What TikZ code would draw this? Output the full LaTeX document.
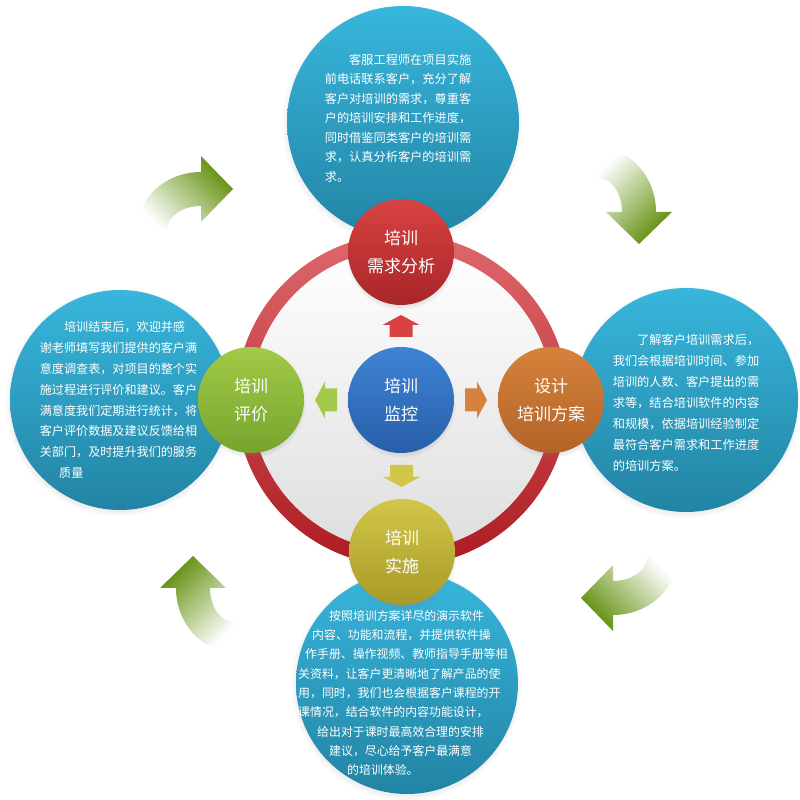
\documentclass[tikz,border=0pt]{standalone}
\usepackage{fontspec}
\setmainfont{Noto Sans CJK SC}
\usetikzlibrary{shadows}

\definecolor{bubbletop}{RGB}{56,182,220}
\definecolor{bubblebot}{RGB}{34,132,164}
\definecolor{ringtop}{RGB}{222,104,108}
\definecolor{ringbot}{RGB}{172,28,34}
\definecolor{innergray}{RGB}{222,222,222}
\definecolor{needtop}{RGB}{216,66,66}
\definecolor{needbot}{RGB}{168,38,40}
\definecolor{plantop}{RGB}{214,130,60}
\definecolor{planbot}{RGB}{178,100,40}
\definecolor{evaltop}{RGB}{162,202,72}
\definecolor{evalbot}{RGB}{118,164,44}
\definecolor{runtop}{RGB}{210,198,72}
\definecolor{runbot}{RGB}{168,154,40}
\definecolor{hubtop}{RGB}{62,132,212}
\definecolor{hubbot}{RGB}{40,94,168}
\definecolor{headgreen}{RGB}{96,142,10}
\definecolor{midgreen}{RGB}{146,194,50}

\tikzset{
  bubble/.style={circle, inner sep=0pt, top color=bubbletop, bottom color=bubblebot,
    circular drop shadow={shadow xshift=-1pt, shadow yshift=-2pt, shadow scale=1.04, opacity=0.35}},
  stage/.style={circle, inner sep=0pt, minimum size=106, text=white, align=center,
    font=\fontsize{17}{28}\selectfont,
    circular drop shadow={shadow xshift=0pt, shadow yshift=-3pt, shadow scale=1.04, opacity=0.3}},
  note/.style={text=white, align=left, inner sep=0pt},
  turnshade/.style={bottom color=white, middle color=midgreen, top color=headgreen},
  turn/.pic={
    \shade[turnshade, shading angle=#1] (-64,0) arc[start angle=180, end angle=90, x radius=64, y radius=58]
      -- (0,74) -- (32,41) -- (0,8) -- (0,24)
      arc[start angle=90, end angle=180, x radius=34, y radius=24] -- cycle;
  },
  blockarr/.pic={
    \path[pic actions] (-11,-11.5) -- (1,-11.5) -- (1,-18.5) -- (11,0)
      -- (1,18.5) -- (1,11.5) -- (-11,11.5) -- cycle;
  }
}

\begin{document}
\begin{tikzpicture}[x=1pt,y=1pt]
\useasboundingbox (0,0) rectangle (800,800);
\fill[white] (0,0) rectangle (800,800);

% curved arrows between the bubbles
\pic at (201,570) {turn=-45};
\pic[rotate=-90] at (598,588) {turn=-135};
\pic[rotate=180] at (613,243) {turn=135};
\pic[rotate=90] at (234,212) {turn=45};

% four bubbles
\node[bubble, minimum size=232] (needBub) at (403,678) {};
\node[bubble, minimum size=224] (planBub) at (686,400) {};
\node[bubble, minimum size=220] (evalBub) at (120,400) {};
\node[bubble, minimum size=222] (runBub)  at (407,117) {};

% ring
\shade[top color=white, bottom color=innergray] (402,400) circle (151);
\shade[top color=ringtop, bottom color=ringbot, even odd rule]
  (402,400) circle (166) (402,400) circle (151);

% stages
\node[stage, top color=hubtop, bottom color=hubbot]   (hub)  at (401,400) {培训\\监控};
\node[stage, top color=needtop, bottom color=needbot] (need) at (401,548) {培训\\需求分析};
\node[stage, top color=plantop, bottom color=planbot] (plan) at (551,400) {设计\\培训方案};
\node[stage, top color=evaltop, bottom color=evalbot] (eval) at (251,400) {培训\\评价};
\node[stage, top color=runtop, bottom color=runbot]   (run)  at (402,248) {培训\\实施};

% small arrows out of the hub
\path (hub) -- (need) coordinate[midway] (toNeed);
\path (hub) -- (plan) coordinate[midway] (toPlan);
\path (hub) -- (eval) coordinate[midway] (toEval);
\path (hub) -- (run)  coordinate[midway] (toRun);
\pic[rotate=90, fill=needtop]  at (toNeed) {blockarr};
\pic[fill=plantop]             at (toPlan) {blockarr};
\pic[rotate=180, fill=evaltop] at (toEval) {blockarr};
\pic[rotate=-90, fill=runtop]  at (toRun)  {blockarr};

% texts
\node[note, font=\fontsize{12.2}{19.5}\selectfont] (needText) at (398,682)
  {\hspace*{2em}客服工程师在项目实施\\前电话联系客户，充分了解\\客户对培训的需求，尊重客\\户的培训安排和工作进度，\\同时借鉴同类客户的培训需\\求，认真分析客户的培训需\\求。};
\node[note, font=\fontsize{12.2}{21}\selectfont] (planText) at (686,397)
  {\hspace*{2em}了解客户培训需求后，\\我们会根据培训时间、参加\\培训的人数、客户提出的需\\求等，结合培训软件的内容\\和规模，依据培训经验制定\\最符合客户需求和工作进度\\的培训方案。};
\node[note, font=\fontsize{12.1}{20.8}\selectfont] (evalText) at (118.5,400)
  {\hspace*{2em}培训结束后，欢迎并感\\谢老师填写我们提供的客户满\\意度调查表，对项目的整个实\\施过程进行评价和建议。客户\\满意度我们定期进行统计，将\\客户评价数据及建议反馈给相\\关部门，及时提升我们的服务\\\hspace*{1.6em}质量};
\node[note, anchor=west, font=\fontsize{11.9}{19.3}\selectfont] (runText) at (298,107)
  {\hspace*{31pt}按照培训方案详尽的演示软件\\\hspace*{14pt}内容、功能和流程，并提供软件操\\\hspace*{7pt}作手册、操作视频、教师指导手册等相\\关资料，让客户更清晰地了解产品的使\\用，同时，我们也会根据客户课程的开\\课情况，结合软件的内容功能设计，\\\hspace*{19pt}给出对于课时最高效合理的安排\\\hspace*{31pt}建议，尽心给予客户最满意\\\hspace*{49pt}的培训体验。};

\end{tikzpicture}
\end{document}
